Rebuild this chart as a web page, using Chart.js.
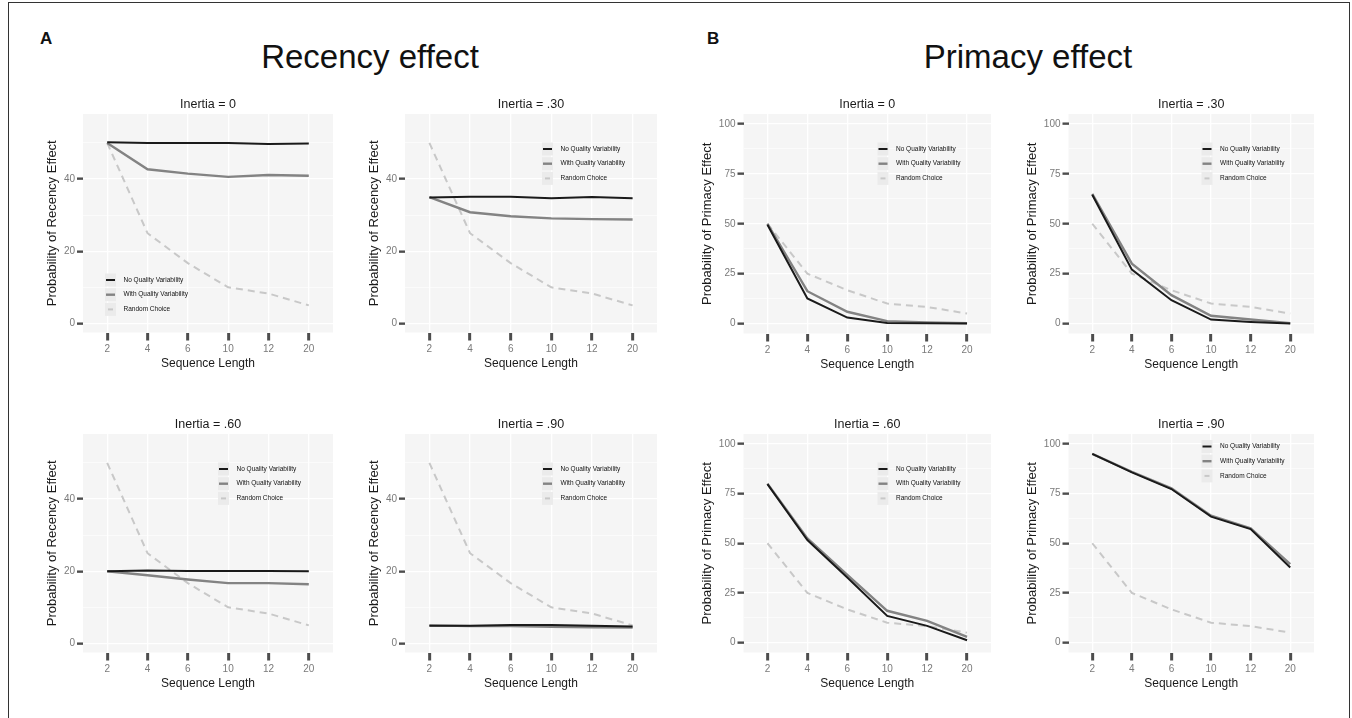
<!DOCTYPE html>
<html>
<head>
<meta charset="utf-8">
<title>Recency and primacy effect</title>
<script src="https://cdn.jsdelivr.net/npm/chart.js@4.4.1/dist/chart.umd.min.js"></script>
<style>
	body {
		margin: 0;
		width: 1352px;
		height: 718px;
		background: #ffffff;
		position: relative;
		overflow: hidden;
		font-family: "Liberation Sans", Arial, sans-serif;
		color: #111;
	}
	.frame {
		position: absolute;
		left: 8px;
		top: 2px;
		width: 1340px;
		height: 740px;
		border: 1.5px solid #333;
		border-bottom: none;
	}
	.letter {
		position: absolute;
		font-weight: bold;
		font-size: 17px;
		line-height: 17px;
	}
	.big-title {
		position: absolute;
		font-size: 33px;
		line-height: 36px;
		transform: translateX(-50%);
		white-space: nowrap;
	}
	canvas.panel {
		position: absolute;
	}
</style>
</head>
<body>
<div class="frame"></div>
<div class="letter" style="left:40px; top:30px;">A</div>
<div class="letter" style="left:707px; top:30px;">B</div>
<div class="big-title" style="left:370px; top:39px;">Recency effect</div>
<div class="big-title" style="left:1028px; top:39px;">Primacy effect</div>

<script>
	// x categories (sequence length)
	const seqLabels = ['2', '4', '6', '10', '12', '20']
	const seriesNames = ['No Quality Variability', 'With Quality Variability', 'Random Choice']

	// random choice baseline, same in every panel
	const randomChoice = [50, 25, 16.7, 10, 8.3, 5]

	// recency effect panels
	const recency0_noQV = [50.2, 50.0, 50.0, 50.0, 49.7, 49.8]
	const recency0_withQV = [50, 42.7, 41.5, 40.6, 41.1, 40.9]
	const recency30_noQV = [34.9, 35.1, 35.1, 34.7, 35.0, 34.7]
	const recency30_withQV = [35, 30.8, 29.7, 29.1, 28.9, 28.8]
	const recency60_noQV = [20, 20.2, 20.1, 20.1, 20.1, 20]
	const recency60_withQV = [20, 18.9, 17.7, 16.7, 16.7, 16.4]
	const recency90_noQV = [4.9, 4.9, 5.1, 5.1, 4.9, 4.7]
	const recency90_withQV = [5, 4.8, 4.8, 4.6, 4.5, 4.4]

	// primacy effect panels
	const primacy0_noQV = [49.5, 12.6, 3.0, 0.3, 0.1, 0]
	const primacy0_withQV = [50, 16.2, 5.9, 1.2, 0.5, 0.2]
	const primacy30_noQV = [64.5, 27, 11.7, 2.0, 0.8, 0]
	const primacy30_withQV = [65, 30, 14.2, 3.9, 2.0, 0.2]
	const primacy60_noQV = [79.8, 51.6, 32.8, 13.4, 8.4, 1.2]
	const primacy60_withQV = [80, 52.4, 34.1, 16, 10.9, 2.9]
	const primacy90_noQV = [95, 85.7, 77.3, 63.4, 57.1, 37.8]
	const primacy90_withQV = [95, 86, 77.6, 63.9, 57.5, 39.5]

	// y ticks: labelled majors plus unlabelled minor gridlines
	const recencyTicks = [0, 10, 20, 30, 40, 50]
	const recencyMajor = 20
	const primacyTicks = [0, 12.5, 25, 37.5, 50, 62.5, 75, 87.5, 100]
	const primacyMajor = 25

	Chart.defaults.font.family = '"Liberation Sans", Arial, sans-serif'

	//grey panel background like ggplot
	const panelBg = {
		id: 'panelBg',
		beforeDraw(chart) {
			const {ctx, chartArea: a} = chart
			ctx.save()
			ctx.fillStyle = '#f5f5f5'
			ctx.fillRect(a.left, a.top, a.width, a.height)
			ctx.restore()
		}
	}

	//legend drawn inside the plot area
	const insetLegend = {
		id: 'insetLegend',
		afterDatasetsDraw(chart, args, opts) {
			const {ctx, chartArea: a} = chart
			ctx.save()
			chart.data.datasets.forEach((ds, i) => {
				const kx = a.left + opts.x
				const cy = a.top + opts.y + i * 14.7
				ctx.fillStyle = '#ebebeb'
				ctx.fillRect(kx, cy - 6.5, 11, 13)
				ctx.strokeStyle = ds.borderColor
				ctx.lineWidth = ds.borderWidth
				ctx.beginPath()
				if (ds.borderDash) {
					ctx.moveTo(kx + 3, cy)
					ctx.lineTo(kx + 8, cy)
				} else {
					ctx.moveTo(kx + 1, cy)
					ctx.lineTo(kx + 10, cy)
				}
				ctx.stroke()
				ctx.fillStyle = '#111'
				ctx.font = '6.5px "Liberation Sans", Arial, sans-serif'
				ctx.textBaseline = 'middle'
				ctx.fillText(ds.label, kx + 18.5, cy)
			})
			ctx.restore()
		}
	}

	// area = plot area on the page [left, top, right, bottom], legend = offset inside plot
	const panels = [
		{title: 'Inertia = 0', kind: 'recency', noQV: recency0_noQV, withQV: recency0_withQV, area: [83, 114, 333, 332.5], legend: [22, 166]},
		{title: 'Inertia = .30', kind: 'recency', noQV: recency30_noQV, withQV: recency30_withQV, area: [405, 114, 657, 332.5], legend: [137, 35]},
		{title: 'Inertia = 0', kind: 'primacy', noQV: primacy0_noQV, withQV: primacy0_withQV, area: [743, 114, 990, 333], legend: [134, 35]},
		{title: 'Inertia = .30', kind: 'primacy', noQV: primacy30_noQV, withQV: primacy30_withQV, area: [1068, 114, 1313, 333], legend: [133, 35]},
		{title: 'Inertia = .60', kind: 'recency', noQV: recency60_noQV, withQV: recency60_withQV, area: [83, 433.5, 333, 651.5], legend: [135, 35]},
		{title: 'Inertia = .90', kind: 'recency', noQV: recency90_noQV, withQV: recency90_withQV, area: [405, 433.5, 657, 651.5], legend: [137, 35]},
		{title: 'Inertia = .60', kind: 'primacy', noQV: primacy60_noQV, withQV: primacy60_withQV, area: [743, 433.5, 990, 651.5], legend: [134, 35]},
		{title: 'Inertia = .90', kind: 'primacy', noQV: primacy90_noQV, withQV: primacy90_withQV, area: [1068, 433.5, 1313, 651.5], legend: [133, 12.5]}
	]

	const toPoints = (values) => values.map((v, i) => ({x: i, y: v}))

	function makePanel(p) {
		const isRecency = p.kind === 'recency'
		const yW = isRecency ? 38 : 43.5
		const titleH = 18
		const xH = 38.5
		const padR = 4
		const [L, T, R, B] = p.area
		const yTicks = isRecency ? recencyTicks : primacyTicks
		const major = isRecency ? recencyMajor : primacyMajor

		const canvas = document.createElement('canvas')
		canvas.className = 'panel'
		canvas.width = Math.round(yW + (R - L) + padR)
		canvas.height = Math.round(titleH + (B - T) + xH)
		canvas.style.left = (L - yW) + 'px'
		canvas.style.top = (T - titleH) + 'px'
		document.body.appendChild(canvas)

		new Chart(canvas.getContext('2d'), {
			type: 'line',
			data: {
				datasets: [
					{label: seriesNames[0], data: toPoints(p.noQV), borderColor: '#1a1a1a', borderWidth: 2, order: 0},
					{label: seriesNames[1], data: toPoints(p.withQV), borderColor: '#838383', borderWidth: 2.4, order: 1},
					{label: seriesNames[2], data: toPoints(randomChoice), borderColor: '#c8c8c8', borderWidth: 2, borderDash: [7, 5], order: 2}
				]
			},
			options: {
				responsive: false,
				animation: false,
				elements: {
					point: {radius: 0},
					line: {tension: 0, fill: false}
				},
				layout: {padding: {left: 0, top: 0, right: padR, bottom: 0}},
				scales: {
					x: {
						type: 'linear',
						min: -0.6,
						max: 5.6,
						afterBuildTicks: (s) => { s.ticks = seqLabels.map((_, i) => ({value: i})) },
						afterFit: (s) => { s.height = xH },
						ticks: {
							callback: (v) => seqLabels[v],
							color: '#7a7a7a',
							font: {size: 10},
							padding: 3,
							maxRotation: 0,
							autoSkip: false
						},
						grid: {color: '#ffffff', lineWidth: 1.3, tickLength: 8, tickColor: '#4d4d4d', tickWidth: 3},
						border: {display: false},
						title: {display: true, text: 'Sequence Length', color: '#1a1a1a', font: {size: 12}, padding: 0}
					},
					y: {
						min: isRecency ? -2.5 : -5,
						max: isRecency ? 58 : 105,
						afterBuildTicks: (s) => { s.ticks = yTicks.map((v) => ({value: v})) },
						afterFit: (s) => { s.width = yW },
						ticks: {
							callback: (v) => (v % major === 0 ? v : ''),
							color: '#7a7a7a',
							font: {size: 10},
							padding: 2
						},
						grid: {
							color: '#ffffff',
							lineWidth: (c) => (c.tick && c.tick.value % major === 0 ? 1.3 : 0.6),
							tickLength: 6,
							tickWidth: 2.4,
							tickColor: (c) => (c.tick && c.tick.value % major === 0 ? '#4d4d4d' : 'rgba(0,0,0,0)')
						},
						border: {display: false},
						title: {
							display: true,
							text: isRecency ? 'Probability of Recency Effect' : 'Probability of Primacy Effect',
							color: '#1a1a1a',
							font: {size: 13},
							padding: 0
						}
					}
				},
				plugins: {
					title: {
						display: true,
						text: p.title,
						fullSize: false,
						color: '#1a1a1a',
						font: {size: 12.5, weight: 'normal'},
						padding: {top: 1.5, bottom: 1.5}
					},
					legend: {display: false},
					tooltip: {enabled: false},
					insetLegend: {x: p.legend[0], y: p.legend[1]}
				}
			},
			plugins: [panelBg, insetLegend]
		})
	}

	panels.forEach(makePanel)
</script>
</body>
</html>
